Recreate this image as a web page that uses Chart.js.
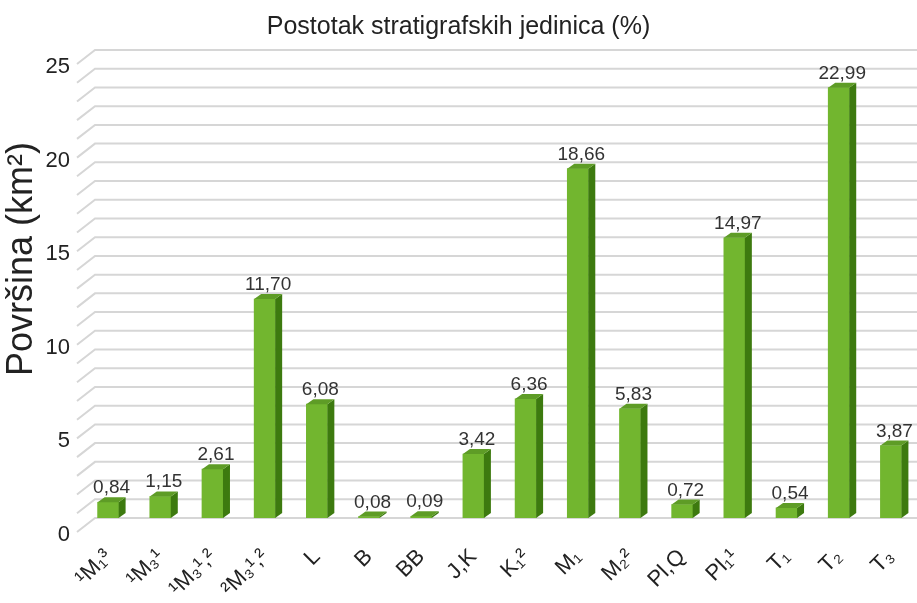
<!DOCTYPE html>
<html>
<head>
<meta charset="utf-8">
<script src="https://cdn.jsdelivr.net/npm/chart.js@4.4.1/dist/chart.umd.min.js"></script>
<style>
  html, body { margin: 0; padding: 0; background: #fff; }
  #wrap { width: 917px; height: 603px; }
</style>
</head>
<body>
<div id="wrap"><canvas id="chart" width="917" height="603"></canvas></div>
<script>
const categories = ["¹M₁³", "¹M₃¹", "¹M₃¹,²", "²M₃¹,²", "L", "B", "BB", "J,K", "K₁²", "M₁", "M₂²", "Pl,Q", "Pl₁¹", "T₁", "T₂", "T₃"];
const shares = [0.84, 1.15, 2.61, 11.70, 6.08, 0.08, 0.09, 3.42, 6.36, 18.66, 5.83, 0.72, 14.97, 0.54, 22.99, 3.87];
const yMax = 25;

const FRONT = "#72b62f";
const SIDE = "#3d7a0f";
const TOP = "#5e9c26";
const GRID = "#d6d6d6";
const FONT = "'Liberation Sans', Arial, sans-serif";

// 3D look: back wall grid with diagonal floor lines, then side + top faces on the bars
const wallPlugin = {
  id: "wall",
  beforeDatasetsDraw(chart) {
    const { ctx, chartArea, scales } = chart;
    ctx.save();
    ctx.strokeStyle = GRID;
    ctx.lineWidth = 2;
    for (let v = 0; v <= yMax; v++) {
      const y = scales.y.getPixelForValue(v);
      ctx.beginPath();
      ctx.moveTo(chartArea.left - 5, y + 14);
      ctx.lineTo(chartArea.left + 13, y);
      ctx.lineTo(chartArea.right, y);
      ctx.stroke();
    }
    ctx.restore();
  },
  afterDatasetsDraw(chart) {
    const { ctx } = chart;
    const meta = chart.getDatasetMeta(0);
    const d = 7, dh = 5;
    ctx.save();
    meta.data.forEach((bar, i) => {
      const l = bar.x - bar.width / 2, r = bar.x + bar.width / 2;
      const top = bar.y, base = bar.base;
      ctx.fillStyle = SIDE;
      ctx.beginPath();
      ctx.moveTo(r, top);
      ctx.lineTo(r + d, top - dh);
      ctx.lineTo(r + d, base - dh);
      ctx.lineTo(r, base);
      ctx.closePath();
      ctx.fill();
      ctx.fillStyle = TOP;
      ctx.beginPath();
      ctx.moveTo(l, top);
      ctx.lineTo(l + d, top - dh);
      ctx.lineTo(r + d, top - dh);
      ctx.lineTo(r, top);
      ctx.closePath();
      ctx.fill();

      ctx.fillStyle = "#333";
      ctx.font = "19px " + FONT;
      ctx.textAlign = "center";
      ctx.textBaseline = "alphabetic";
      ctx.fillText(shares[i].toFixed(2).replace(".", ","), bar.x + d / 2, top - dh - 4);
    });
    ctx.restore();
  }
};

new Chart(document.getElementById("chart"), {
  type: "bar",
  data: {
    labels: categories,
    datasets: [{
      data: shares,
      backgroundColor: FRONT,
      barThickness: 21
    }]
  },
  options: {
    responsive: false,
    animation: false,
    layout: { padding: { top: 2, right: 0, left: 0, bottom: 0 } },
    plugins: {
      legend: { display: false },
      tooltip: { enabled: false },
      title: {
        display: true,
        text: "Postotak stratigrafskih jedinica (%)",
        color: "#222",
        font: { family: FONT, size: 25, weight: "normal" },
        padding: { top: 10, bottom: 8 }
      }
    },
    scales: {
      x: {
        offset: true,
        grid: { display: false, drawTicks: false },
        border: { display: false },
        ticks: {
          color: "#222",
          font: { family: FONT, size: 22 },
          minRotation: 45,
          maxRotation: 45,
          padding: 26,
          autoSkip: false
        },
        afterFit(scale) {
          scale.height = 85;
          scale.paddingLeft = 0;
          scale.paddingRight = 0;
        }
      },
      y: {
        min: 0,
        max: yMax,
        grid: { display: false, drawTicks: false },
        border: { display: false },
        ticks: {
          stepSize: 1,
          autoSkip: false,
          color: "#222",
          padding: 12,
          labelOffset: 17,
          font: { family: FONT, size: 22 },
          callback: (v) => (v % 5 === 0 ? v : "")
        },
        title: {
          display: true,
          text: "     Površina (km²)",
          color: "#222",
          font: { family: FONT, size: 36 },
          padding: { top: 0, bottom: 0 }
        },
        afterFit(scale) { scale.width = 82; }
      }
    }
  },
  plugins: [wallPlugin]
});
</script>
</body>
</html>
